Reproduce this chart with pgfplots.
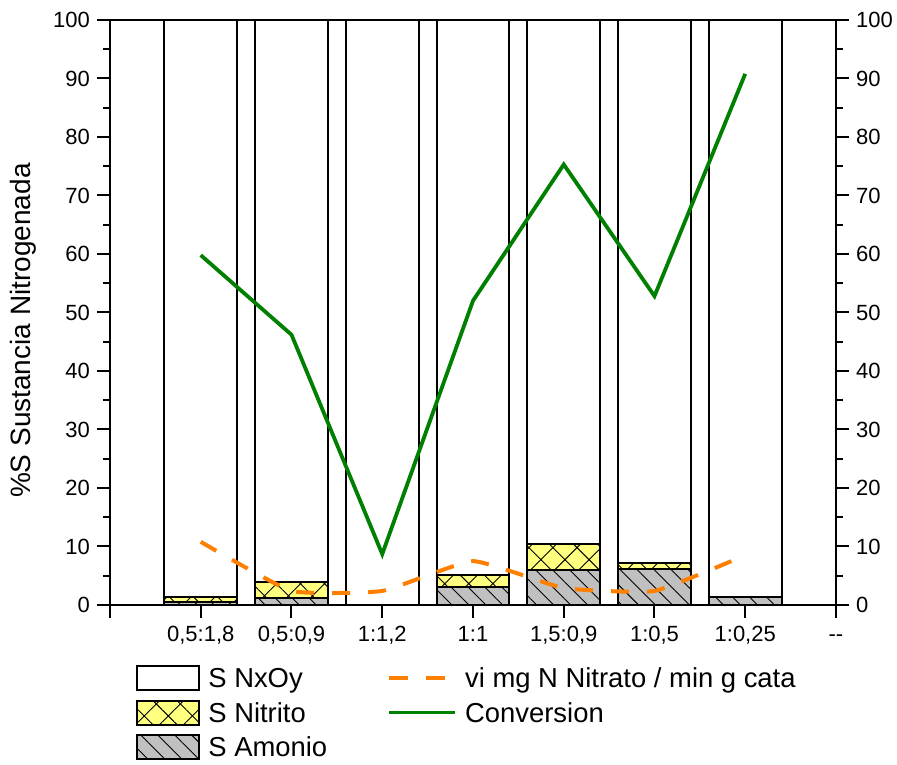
\documentclass[border=0pt]{standalone}
\usepackage{fontspec}
\setmainfont{Liberation Sans}
\usepackage{pgfplots}
\pgfplotsset{compat=1.18}
\usetikzlibrary{patterns.meta}
\definecolor{nitrito}{RGB}{255,255,128}
\definecolor{amonio}{RGB}{192,192,192}
\definecolor{vorange}{RGB}{255,128,0}
\definecolor{cgreen}{RGB}{0,128,0}
\pgfplotsset{
  base/.style={scale only axis, width=363pt, height=292.5pt,
    xmin=0, xmax=8, ymin=0, ymax=100,
    ytick={0,10,...,100}, minor y tick num=1, tick align=outside,
    /pgf/number format/assume math mode=true,
    major tick length=6.5pt, minor tick length=3.5pt,
    every tick/.style={black, line width=1pt},
    axis line style={line width=1pt},
    tick label style={font=\fontsize{11}{13}\selectfont},
    label style={font=\fontsize{14}{16}\selectfont},
  },
  legbox/.style={legend image code/.code={\draw[##1] (0pt,-6pt) rectangle (31pt,6pt);}},
  legline/.style={legend image code/.code={\draw[##1] (0pt,0pt) -- (33pt,0pt);}},
}
\begin{document}
\begin{tikzpicture}
\begin{axis}[base, ybar stacked, bar width=0.8,
  xtick={0,...,8}, xtick pos=bottom, ytick pos=left,
  xticklabels={,{0,5:1,8},{0,5:0,9},{1:1,2},{1:1},{1,5:0,9},{1:0,5},{1:0,25},{-{}-}},
  xticklabel style={text height=8pt, text depth=2.5pt},
  ylabel={\%S Sustancia Nitrogenada},
  ylabel style={at={(axis description cs:-0.12,0.469)}, anchor=center},
]
\addplot[forget plot, fill=amonio, draw=black, line width=1pt,
  postaction={pattern={Lines[angle=-45,distance=6pt,line width=0.45pt]}, pattern color=black}]
  coordinates {(1,0.5)(2,1.2)(3,0)(4,3.0)(5,5.9)(6,6.2)(7,1.4)};
\addplot[forget plot, fill=nitrito, draw=black, line width=1pt,
  postaction={pattern={Hatch[angle=45,distance=8.5pt,line width=0.45pt]}, pattern color=black}]
  coordinates {(1,0.9)(2,2.8)(3,0)(4,2.1)(5,4.6)(6,0.9)(7,0)};
\addplot[forget plot, fill=white, draw=black, line width=1pt]
  coordinates {(1,98.6)(2,96.0)(3,100)(4,94.9)(5,89.5)(6,92.9)(7,98.6)};
\end{axis}
\begin{axis}[base, axis y line*=right, axis x line=none,
  legend columns=2,
  legend style={at={(axis description cs:0.0358,-0.1018)}, anchor=north west,
    draw=none, fill=none, inner sep=0pt, row sep=4.3pt,
    font=\fontsize{13.7}{16}\selectfont,
    nodes={inner sep=0pt, text height=11pt, text depth=1.2pt},
    /tikz/every odd column/.append style={column sep=4pt},
    /tikz/every even column/.append style={column sep=30pt}},
  legend cell align=left,
]
\addplot[forget plot, vorange, line width=2pt, dash pattern=on 9pt off 9pt, smooth, tension=0.25]
  coordinates {(1,10.8)(2,2.4)(3,2.4)(4,7.5)(5,2.9)(6,2.4)(7,8.5)};
\addplot[forget plot, cgreen, line width=1.9pt]
  coordinates {(1,59.8)(2,46.2)(3,8.7)(4,52.0)(5,75.3)(6,52.8)(7,90.8)};
\addlegendimage{legbox, fill=white, draw=black, line width=1pt}
\addlegendentry{S NxOy}
\addlegendimage{legline, vorange, line width=2pt, dash pattern=on 9.5pt off 9pt}
\addlegendentry{vi mg N Nitrato / min g cata}
\addlegendimage{legbox, fill=nitrito, draw=black, line width=1pt, postaction={pattern={Hatch[angle=45,distance=8.5pt,line width=0.45pt]}, pattern color=black}}
\addlegendentry{S Nitrito}
\addlegendimage{legline, cgreen, line width=1.9pt}
\addlegendentry{Conversion}
\addlegendimage{legbox, fill=amonio, draw=black, line width=1pt, postaction={pattern={Lines[angle=-45,distance=6pt,line width=0.45pt]}, pattern color=black}}
\addlegendentry{S Amonio}
\end{axis}
\pgfresetboundingbox
\path[use as bounding box] (-55pt,-79.5pt) rectangle (393.5pt,302.5pt);
\end{tikzpicture}
\end{document}
